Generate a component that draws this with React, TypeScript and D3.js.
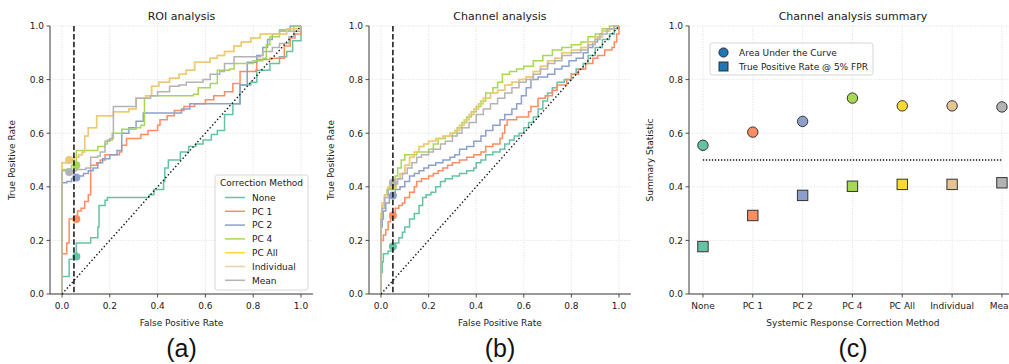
import React from 'react';
import * as d3 from 'd3';

// ---------- data ----------
const methods = ['None', 'PC 1', 'PC 2', 'PC 4', 'PC All', 'Individual', 'Mean'];
const colors = ['#66c2a5', '#fc8d62', '#8da0cb', '#a6d854', '#ffd92f', '#e5c494', '#b3b3b3'];
const lineOpacity = [1, 1, 1, 1, 1, 0.8, 1];
const rateTicks = [0, 0.2, 0.4, 0.6, 0.8, 1.0];
const rateTickLabels = ['0.0', '0.2', '0.4', '0.6', '0.8', '1.0'];

// ROI analysis ROC curves: [FPR, TPR] after each step
const roiNone = [[0,0],[0,0.065],[0.03,0.13],[0.06,0.19],[0.12,0.21],[0.15,0.25],[0.155,0.33],[0.18,0.35],[0.19,0.36],[0.365,0.37],[0.385,0.39],[0.425,0.42],[0.43,0.47],[0.445,0.5],[0.495,0.53],[0.53,0.55],[0.56,0.56],[0.59,0.575],[0.625,0.595],[0.65,0.61],[0.68,0.67],[0.715,0.71],[0.745,0.78],[0.79,0.79],[0.815,0.835],[0.87,0.86],[0.91,0.885],[0.94,0.905],[0.965,0.945],[1,1]];
const roiPc1 = [[0,0],[0,0.15],[0.02,0.19],[0.03,0.28],[0.065,0.31],[0.08,0.32],[0.095,0.345],[0.11,0.37],[0.12,0.48],[0.145,0.49],[0.16,0.5],[0.18,0.52],[0.24,0.53],[0.25,0.555],[0.27,0.58],[0.33,0.595],[0.36,0.61],[0.4,0.63],[0.41,0.65],[0.44,0.665],[0.47,0.685],[0.51,0.7],[0.555,0.71],[0.6,0.725],[0.635,0.74],[0.68,0.755],[0.715,0.785],[0.745,0.83],[0.81,0.835],[0.815,0.875],[0.87,0.88],[0.93,0.925],[0.955,0.955],[0.975,0.97],[1,1]];
const roiPc2 = [[0,0],[0,0.415],[0.02,0.42],[0.04,0.43],[0.06,0.44],[0.09,0.45],[0.11,0.46],[0.13,0.47],[0.15,0.49],[0.17,0.505],[0.2,0.52],[0.23,0.535],[0.25,0.6],[0.28,0.62],[0.31,0.645],[0.34,0.675],[0.5,0.69],[0.535,0.71],[0.745,0.78],[0.775,0.865],[0.815,0.89],[0.84,0.92],[0.86,0.95],[0.88,0.97],[0.91,0.985],[0.955,1],[1,1]];
const roiPc4 = [[0,0],[0,0.465],[0.04,0.48],[0.06,0.535],[0.15,0.55],[0.18,0.56],[0.19,0.575],[0.21,0.6],[0.25,0.615],[0.31,0.62],[0.33,0.63],[0.345,0.73],[0.37,0.74],[0.55,0.745],[0.57,0.77],[0.62,0.785],[0.65,0.835],[0.7,0.84],[0.72,0.86],[0.8,0.87],[0.84,0.88],[0.855,0.93],[0.87,0.96],[0.91,0.98],[0.97,1],[1,1]];
const roiIndividual = [[0,0],[0,0.49],[0.03,0.5],[0.05,0.51],[0.07,0.52],[0.085,0.53],[0.095,0.59],[0.11,0.62],[0.145,0.665],[0.215,0.68],[0.28,0.69],[0.31,0.73],[0.35,0.74],[0.375,0.775],[0.405,0.79],[0.45,0.805],[0.49,0.82],[0.52,0.835],[0.555,0.865],[0.62,0.88],[0.65,0.89],[0.68,0.905],[0.72,0.925],[0.75,0.94],[0.79,0.955],[0.83,0.97],[0.94,0.99],[1,1]];
const roiPcAll = roiIndividual;
const roiMean = [[0,0],[0,0.46],[0.06,0.465],[0.1,0.47],[0.12,0.51],[0.15,0.515],[0.16,0.53],[0.18,0.57],[0.2,0.58],[0.215,0.7],[0.31,0.73],[0.37,0.74],[0.4,0.755],[0.45,0.775],[0.49,0.78],[0.52,0.79],[0.59,0.8],[0.62,0.82],[0.66,0.83],[0.68,0.86],[0.72,0.885],[0.83,0.89],[0.84,0.905],[0.88,0.92],[0.91,0.935],[0.95,0.96],[0.97,0.98],[1,1]];
const roiMarkerFpr = [0.06, 0.06, 0.06, 0.06, 0.03, 0.03, 0.03];
const roiMarkerTpr = [0.14, 0.28, 0.435, 0.48, 0.5, 0.5, 0.455];

// Channel analysis ROC curves
const chNone = [[0,0],[0,0.08],[0.005,0.12],[0.01,0.15],[0.03,0.16],[0.05,0.175],[0.06,0.19],[0.075,0.21],[0.09,0.23],[0.1,0.25],[0.12,0.28],[0.14,0.3],[0.16,0.33],[0.175,0.36],[0.19,0.37],[0.21,0.38],[0.23,0.4],[0.25,0.42],[0.27,0.43],[0.3,0.44],[0.33,0.45],[0.36,0.46],[0.39,0.47],[0.4,0.49],[0.42,0.5],[0.44,0.52],[0.47,0.53],[0.5,0.54],[0.52,0.56],[0.54,0.575],[0.56,0.59],[0.58,0.6],[0.6,0.62],[0.62,0.64],[0.64,0.66],[0.66,0.69],[0.68,0.72],[0.7,0.75],[0.72,0.77],[0.74,0.79],[0.77,0.8],[0.8,0.82],[0.82,0.84],[0.85,0.86],[0.87,0.89],[0.9,0.92],[0.93,0.95],[0.96,0.97],[0.98,0.99],[1,1]];
const chPc1 = [[0,0],[0,0.2],[0.01,0.22],[0.02,0.24],[0.03,0.27],[0.04,0.29],[0.05,0.3],[0.06,0.32],[0.075,0.33],[0.09,0.34],[0.1,0.36],[0.12,0.38],[0.14,0.4],[0.15,0.42],[0.17,0.43],[0.2,0.44],[0.22,0.45],[0.24,0.46],[0.26,0.47],[0.28,0.48],[0.3,0.49],[0.33,0.5],[0.36,0.51],[0.39,0.52],[0.42,0.53],[0.44,0.55],[0.47,0.56],[0.5,0.58],[0.51,0.6],[0.52,0.63],[0.53,0.65],[0.57,0.66],[0.62,0.68],[0.63,0.7],[0.66,0.73],[0.69,0.74],[0.72,0.76],[0.74,0.78],[0.78,0.8],[0.8,0.82],[0.83,0.84],[0.86,0.86],[0.89,0.88],[0.91,0.89],[0.94,0.91],[0.97,0.92],[0.98,0.94],[0.99,0.97],[1,1]];
const chPc2 = [[0,0],[0,0.25],[0.005,0.28],[0.01,0.31],[0.02,0.34],[0.035,0.36],[0.05,0.37],[0.06,0.39],[0.08,0.4],[0.1,0.42],[0.12,0.44],[0.14,0.45],[0.16,0.46],[0.18,0.47],[0.2,0.48],[0.23,0.49],[0.26,0.5],[0.29,0.51],[0.31,0.52],[0.33,0.54],[0.36,0.55],[0.39,0.57],[0.42,0.59],[0.44,0.61],[0.47,0.63],[0.5,0.65],[0.52,0.67],[0.55,0.69],[0.57,0.71],[0.59,0.74],[0.61,0.77],[0.63,0.8],[0.66,0.81],[0.7,0.82],[0.73,0.84],[0.76,0.85],[0.79,0.87],[0.82,0.88],[0.85,0.9],[0.87,0.92],[0.89,0.94],[0.91,0.96],[0.93,0.98],[0.96,0.99],[0.98,1],[1,1]];
const chPc4 = [[0,0],[0,0.3],[0.005,0.33],[0.015,0.37],[0.025,0.39],[0.04,0.4],[0.05,0.41],[0.06,0.44],[0.07,0.47],[0.085,0.5],[0.1,0.52],[0.13,0.52],[0.15,0.53],[0.18,0.53],[0.2,0.54],[0.22,0.56],[0.24,0.58],[0.27,0.59],[0.3,0.6],[0.32,0.62],[0.34,0.64],[0.36,0.66],[0.38,0.68],[0.4,0.7],[0.42,0.72],[0.44,0.75],[0.47,0.77],[0.49,0.79],[0.51,0.82],[0.54,0.83],[0.57,0.84],[0.6,0.85],[0.64,0.87],[0.68,0.89],[0.72,0.91],[0.76,0.92],[0.8,0.93],[0.84,0.94],[0.87,0.96],[0.9,0.97],[0.93,0.99],[0.96,1],[1,1]];
const chIndividual = [[0,0],[0,0.3],[0.005,0.34],[0.015,0.37],[0.03,0.4],[0.05,0.41],[0.06,0.43],[0.08,0.45],[0.1,0.48],[0.12,0.51],[0.14,0.53],[0.16,0.55],[0.18,0.56],[0.2,0.57],[0.23,0.58],[0.26,0.59],[0.29,0.6],[0.31,0.61],[0.33,0.63],[0.35,0.65],[0.37,0.67],[0.39,0.69],[0.41,0.71],[0.43,0.73],[0.46,0.75],[0.49,0.76],[0.52,0.78],[0.55,0.79],[0.58,0.8],[0.61,0.81],[0.64,0.83],[0.67,0.85],[0.7,0.87],[0.73,0.88],[0.76,0.9],[0.8,0.91],[0.84,0.92],[0.87,0.94],[0.9,0.96],[0.93,0.98],[0.96,0.99],[0.98,1],[1,1]];
const chPcAll = chIndividual;
const chMean = [[0,0],[0,0.28],[0.005,0.32],[0.015,0.36],[0.03,0.39],[0.05,0.41],[0.07,0.43],[0.09,0.45],[0.11,0.47],[0.13,0.49],[0.15,0.51],[0.17,0.52],[0.2,0.53],[0.22,0.54],[0.25,0.56],[0.27,0.57],[0.3,0.59],[0.32,0.6],[0.34,0.62],[0.37,0.64],[0.4,0.67],[0.43,0.69],[0.46,0.71],[0.49,0.73],[0.52,0.75],[0.55,0.77],[0.58,0.79],[0.61,0.8],[0.64,0.82],[0.67,0.84],[0.7,0.86],[0.73,0.87],[0.76,0.89],[0.8,0.9],[0.84,0.91],[0.87,0.93],[0.9,0.95],[0.92,0.97],[0.95,0.99],[0.98,1],[1,1]];
const chMarkerFpr = [0.05, 0.05, 0.05, 0.05, 0.05, 0.05, 0.05];
const chMarkerTpr = [0.177, 0.293, 0.368, 0.402, 0.409, 0.409, 0.415];

// Summary
const aucValues = [0.555, 0.604, 0.644, 0.731, 0.702, 0.702, 0.698];
const tprAt5Values = [0.177, 0.293, 0.368, 0.402, 0.409, 0.409, 0.415];

const roiCurves = [roiNone, roiPc1, roiPc2, roiPc4, roiPcAll, roiIndividual, roiMean];
const chCurves = [chNone, chPc1, chPc2, chPc4, chPcAll, chIndividual, chMean];

// ---------- layout ----------
const TOP = 26;
const BOTTOM = 294;
const FONT = 'DejaVu Sans, sans-serif';
const SPINE = '#3a3a3a';
const TXT = '#1a1a1a';
const GRID = '#d6d6d6';

const yScale = d3.scaleLinear().domain([0, 1]).range([BOTTOM, TOP]);

function Axes({ x, left, right, xTicks, xTickLabels, yLabelX, xLabel, yLabel, title }) {
  const cx = (left + right) / 2;
  return (
    <g>
      {xTicks.map((t, i) => (
        <line key={'gx' + i} x1={x(t)} x2={x(t)} y1={TOP} y2={BOTTOM} stroke={GRID} strokeWidth={0.8} strokeDasharray="1,1.6" />
      ))}
      {rateTicks.map((t, i) => (
        <line key={'gy' + i} x1={left} x2={right} y1={yScale(t)} y2={yScale(t)} stroke={GRID} strokeWidth={0.8} strokeDasharray="1,1.6" />
      ))}
      <line x1={left} x2={left} y1={TOP} y2={BOTTOM} stroke={SPINE} strokeWidth={1} />
      <line x1={left} x2={right} y1={BOTTOM} y2={BOTTOM} stroke={SPINE} strokeWidth={1} />
      {xTicks.map((t, i) => (
        <g key={'tx' + i}>
          <line x1={x(t)} x2={x(t)} y1={BOTTOM} y2={BOTTOM + 3.5} stroke={SPINE} strokeWidth={0.9} />
          <text x={x(t)} y={BOTTOM + 15} textAnchor="middle" fontSize={9} fontFamily={FONT} fill={TXT}>{xTickLabels[i]}</text>
        </g>
      ))}
      {rateTicks.map((t, i) => (
        <g key={'ty' + i}>
          <line x1={left - 3.5} x2={left} y1={yScale(t)} y2={yScale(t)} stroke={SPINE} strokeWidth={0.9} />
          <text x={left - 6} y={yScale(t) + 3.3} textAnchor="end" fontSize={9} fontFamily={FONT} fill={TXT}>{rateTickLabels[i]}</text>
        </g>
      ))}
      <text x={cx} y={BOTTOM + 32} textAnchor="middle" fontSize={9} fontFamily={FONT} fill={TXT}>{xLabel}</text>
      <text transform={`translate(${yLabelX},${(TOP + BOTTOM) / 2}) rotate(-90)`} textAnchor="middle" fontSize={9} fontFamily={FONT} fill={TXT}>{yLabel}</text>
      <text x={cx} y={20} textAnchor="middle" fontSize={11} fontFamily={FONT} fill={TXT}>{title}</text>
    </g>
  );
}

function RocPanel({ left, x0, x1, title, curves, markerFpr, markerTpr, yLabelX, showLegend, letter }) {
  const x = d3.scaleLinear().domain([0, 1]).range([x0, x1]);
  const right = x(1.05);
  const line = d3.line<number[]>().x(d => x(d[0])).y(d => yScale(d[1])).curve(d3.curveStepAfter);
  return (
    <g>
      <Axes x={x} left={left} right={right} xTicks={rateTicks} xTickLabels={rateTickLabels} yLabelX={yLabelX}
        xLabel="False Positive Rate" yLabel="True Positive Rate" title={title} />
      {curves.map((c, i) => (
        <path key={i} d={line(c) || ''} fill="none" stroke={colors[i]} strokeWidth={1.5} strokeOpacity={lineOpacity[i]} />
      ))}
      {markerFpr.map((f, i) => (
        <circle key={'m' + i} cx={x(f)} cy={yScale(markerTpr[i])} r={4} fill={colors[i]} fillOpacity={lineOpacity[i]} />
      ))}
      <line x1={x(0)} y1={yScale(0)} x2={x(1)} y2={yScale(1)} stroke="#111" strokeWidth={1.4} strokeDasharray="1.4,2.3" />
      <line x1={x(0.05)} x2={x(0.05)} y1={TOP} y2={BOTTOM} stroke="#111" strokeWidth={1.5} strokeDasharray="5.5,2.4" />
      {showLegend && (
        <g>
          <rect x={215} y={175} width={93} height={115} rx={2.5} fill="#fff" fillOpacity={0.85} stroke="#cccccc" strokeWidth={0.8} />
          <text x={261.5} y={186} textAnchor="middle" fontSize={9} fontFamily={FONT} fill={TXT}>Correction Method</text>
          {methods.map((m, i) => (
            <g key={'l' + i}>
              <line x1={225} x2={245} y1={197.5 + i * 13.8} y2={197.5 + i * 13.8} stroke={colors[i]} strokeWidth={1.5} strokeOpacity={lineOpacity[i]} />
              <text x={252} y={200.8 + i * 13.8} fontSize={9} fontFamily={FONT} fill={TXT}>{m}</text>
            </g>
          ))}
        </g>
      )}
      <text x={(left + right) / 2} y={357} textAnchor="middle" fontSize={25} fontFamily="Liberation Sans, Arial, sans-serif" fill="#111">{letter}</text>
    </g>
  );
}

function SummaryPanel() {
  const left = 689;
  const idx = methods.map((_, i) => i);
  const x = d3.scaleLinear().domain([-0.28, 6.3]).range([left, left + 6.58 * 49.83]);
  const right = x(6.3);
  return (
    <g>
      <Axes x={x} left={left} right={right} xTicks={idx} xTickLabels={methods} yLabelX={653}
        xLabel="Systemic Response Correction Method" yLabel="Summary Statistic" title="Channel analysis summary" />
      <line x1={x(0)} x2={x(6)} y1={yScale(0.5)} y2={yScale(0.5)} stroke="#111" strokeWidth={1.3} strokeDasharray="1.3,1.7" />
      {aucValues.map((v, i) => (
        <circle key={'a' + i} cx={x(i)} cy={yScale(v)} r={5.2} fill={colors[i]} stroke="#333" strokeWidth={1} />
      ))}
      {tprAt5Values.map((v, i) => (
        <rect key={'t' + i} x={x(i) - 5.2} y={yScale(v) - 5.2} width={10.4} height={10.4} fill={colors[i]} stroke="#333" strokeWidth={1} />
      ))}
      <rect x={710} y={43} width={163} height={32} rx={2.5} fill="#fff" fillOpacity={0.85} stroke="#cccccc" strokeWidth={0.8} />
      <circle cx={723.5} cy={52.5} r={4.6} fill="#1f77b4" stroke="#222" strokeWidth={0.9} />
      <rect x={719} y={62} width={9} height={9} fill="#1f77b4" stroke="#222" strokeWidth={0.9} />
      <text x={739} y={55.8} fontSize={9} fontFamily={FONT} fill={TXT}>Area Under the Curve</text>
      <text x={739} y={69.8} fontSize={9} fontFamily={FONT} fill={TXT}>True Positive Rate @ 5% FPR</text>
      <text x={853} y={357} textAnchor="middle" fontSize={25} fontFamily="Liberation Sans, Arial, sans-serif" fill="#111">(c)</text>
    </g>
  );
}

export default function App() {
  return (
    <svg width={1009} height={364} style={{ position: 'absolute', left: 0, top: 0, background: '#fff' }}>
      <rect x={0} y={0} width={1009} height={364} fill="#fff" />
      <RocPanel left={50} x0={62} x1={301} title="ROI analysis" curves={roiCurves} markerFpr={roiMarkerFpr}
        markerTpr={roiMarkerTpr} yLabelX={15} showLegend={true} letter="(a)" />
      <RocPanel left={369} x0={381} x1={619} title="Channel analysis" curves={chCurves} markerFpr={chMarkerFpr}
        markerTpr={chMarkerTpr} yLabelX={334} showLegend={false} letter="(b)" />
      <SummaryPanel />
    </svg>
  );
}
